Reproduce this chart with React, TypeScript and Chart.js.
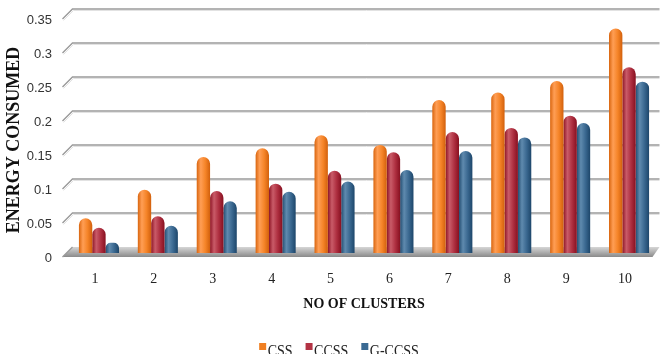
import React, { useEffect, useRef } from "react";
import { Chart, registerables } from "chart.js";

Chart.register(...registerables);

const CATEGORIES = ["1", "2", "3", "4", "5", "6", "7", "8", "9", "10"];
const SERIES_NAMES = ["CSS", "CCSS", "G-CCSS"];
const CSS_VALUES = [0.051, 0.093, 0.141, 0.154, 0.173, 0.159, 0.225, 0.236, 0.253, 0.33];
const CCSS_VALUES = [0.037, 0.054, 0.091, 0.102, 0.121, 0.148, 0.178, 0.184, 0.202, 0.273];
const GCCSS_VALUES = [0.015, 0.04, 0.076, 0.09, 0.105, 0.122, 0.15, 0.17, 0.191, 0.252];
const Y_TICKS = [0, 0.05, 0.1, 0.15, 0.2, 0.25, 0.3, 0.35];
const X_TITLE = "NO OF CLUSTERS";
const Y_TITLE = "ENERGY CONSUMED";

const PALETTE = [
  { solid: "#F07F22", stops: ["#D9650E", "#FF9E55", "#F58428", "#D2600C"] },
  { solid: "#B33344", stops: ["#8E1526", "#C95B68", "#AE2F40", "#871020"] },
  { solid: "#3A6A93", stops: ["#234E72", "#5F8AAE", "#3A6890", "#1D466A"] },
];

const CAT_PCT = 0.68;
const CANVAS_H = 354;
const SERIF = "'Liberation Serif', serif";

function barFill(di: number) {
  return (c: any) => {
    const chart = c.chart;
    const xs = chart.scales && chart.scales.x;
    const ca = chart.chartArea;
    if (!ca || !xs || c.dataIndex === undefined || !xs.width) return PALETTE[di].solid;
    const cat = xs.width / CATEGORIES.length;
    const group = cat * CAT_PCT;
    const bw = group / 3;
    const cx = xs.getPixelForValue(c.dataIndex);
    const x0 = cx - group / 2 + bw * di;
    const g = chart.ctx.createLinearGradient(x0, 0, x0 + bw, 0);
    const s = PALETTE[di].stops;
    g.addColorStop(0, s[0]);
    g.addColorStop(0.3, s[1]);
    g.addColorStop(0.65, s[2]);
    g.addColorStop(1, s[3]);
    return g;
  };
}

const depthPlugin = {
  id: "depth",
  beforeDatasetsDraw(chart: any) {
    const { ctx, chartArea, scales } = chart;
    const y = scales.y;
    const L = chartArea.left;
    const R = chartArea.right;
    ctx.save();
    const y0 = y.getPixelForValue(0);
    const backY = y0 - 6;
    const frontY = y0 + 4;
    const grad = ctx.createLinearGradient(0, backY, 0, frontY);
    grad.addColorStop(0, "#d6d6d6");
    grad.addColorStop(0.5, "#b0b0b0");
    grad.addColorStop(1, "#8a8a8a");
    ctx.fillStyle = grad;
    ctx.beginPath();
    ctx.moveTo(L + 3, backY);
    ctx.lineTo(R + 1, backY);
    ctx.lineTo(R - 6, frontY);
    ctx.lineTo(L - 7, frontY);
    ctx.closePath();
    ctx.fill();
    for (const v of Y_TICKS) {
      const yb = y.getPixelForValue(v) - 6;
      if (v !== 0) {
        ctx.strokeStyle = "#e2e2e2";
        ctx.lineWidth = 1;
        ctx.beginPath();
        ctx.moveTo(L - 6, yb + 11.5);
        ctx.lineTo(L + 4, yb + 1.5);
        ctx.lineTo(R + 1, yb + 1.5);
        ctx.stroke();
        ctx.strokeStyle = "#9a9a9a";
        ctx.lineWidth = 1.4;
        ctx.beginPath();
        ctx.moveTo(L - 7, yb + 10);
        ctx.lineTo(L + 3, yb);
        ctx.lineTo(R + 1, yb);
        ctx.stroke();
      } else {
        ctx.strokeStyle = "#9a9a9a";
        ctx.lineWidth = 1.2;
        ctx.beginPath();
        ctx.moveTo(L - 7, yb + 10);
        ctx.lineTo(L + 3, yb);
        ctx.stroke();
      }
    }
    ctx.restore();
  },
  afterDraw(chart: any) {
    const { ctx } = chart;
    ctx.save();
    ctx.translate(14, 140);
    ctx.rotate(-Math.PI / 2);
    ctx.font = `bold 18px ${SERIF}`;
    ctx.fillStyle = "#111";
    ctx.textAlign = "center";
    ctx.textBaseline = "middle";
    ctx.fillText(Y_TITLE, 0, 0);
    ctx.restore();
    // legend
    ctx.save();
    ctx.font = `14px ${SERIF}`;
    const box = 7;
    const gapIn = 1.5;
    const gapOut = 13;
    const widths = SERIES_NAMES.map((n) => ctx.measureText(n).width);
    const total = widths.reduce((a, w) => a + box + gapIn + w, 0) + gapOut * (SERIES_NAMES.length - 1);
    let x = 339 - total / 2;
    ctx.textBaseline = "alphabetic";
    ctx.textAlign = "left";
    SERIES_NAMES.forEach((n, i) => {
      ctx.fillStyle = PALETTE[i].solid;
      ctx.fillRect(x, 343, box, box);
      ctx.fillStyle = "#222";
      ctx.save();
      ctx.translate(x + box + gapIn, 356);
      ctx.scale(1, 1.25);
      ctx.fillText(n, 0, 0);
      ctx.restore();
      x += box + gapIn + widths[i] + gapOut;
    });
    ctx.restore();
  },
};

export default function App() {
  const ref = useRef<HTMLCanvasElement | null>(null);
  useEffect(() => {
    if (!ref.current) return;
    const valuesList = [CSS_VALUES, CCSS_VALUES, GCCSS_VALUES];
    const chart = new Chart(ref.current, {
      type: "bar",
      data: {
        labels: CATEGORIES,
        datasets: SERIES_NAMES.map((name, i) => ({
          label: name,
          data: valuesList[i],
          backgroundColor: barFill(i),
          borderWidth: 0,
          borderRadius: { topLeft: 7, topRight: 7, bottomLeft: 0, bottomRight: 0 },
          borderSkipped: "bottom",
          categoryPercentage: CAT_PCT,
          barPercentage: 1,
        })),
      },
      options: {
        animation: false,
        responsive: false,
        devicePixelRatio: 1,
        layout: { padding: { left: 0, right: 3.5, top: 15, bottom: 0 } },
        plugins: {
          tooltip: { enabled: false },
          legend: { display: false },
        },
        scales: {
          x: {
            grid: { display: false, drawTicks: false },
            border: { display: false },
            ticks: {
              padding: 18,
              labelOffset: -4,
              color: "#222",
              font: { family: SERIF, size: 14 },
            },
            title: {
              display: true,
              text: X_TITLE,
              color: "#111",
              font: { family: SERIF, size: 14, weight: "bold" },
              padding: { top: 0, bottom: 41.5 },
            },
            afterFit: (s: any) => {
              s.height = 101;
              s.paddingLeft = 0;
              s.paddingRight = 0;
            },
          },
          y: {
            min: 0,
            max: 0.35,
            grid: { display: false, drawTicks: false },
            border: { display: false },
            ticks: {
              stepSize: 0.05,
              padding: 17.5,
              labelOffset: 5.5,
              color: "#333",
              font: { family: "'Liberation Sans', sans-serif", size: 13 },
              callback: (v: any) => String(Math.round(Number(v) * 100) / 100),
            },
            afterFit: (s: any) => {
              s.width = 69.5;
              s.paddingTop = 0;
              s.paddingBottom = 0;
            },
          },
        },
      },
      plugins: [depthPlugin],
    } as any);
    return () => chart.destroy();
  }, []);
  return (
    <div style={{ position: "fixed", left: 0, top: 0, width: 662, height: CANVAS_H, background: "#fff" }}>
      <canvas ref={ref} width={662} height={CANVAS_H} style={{ display: "block" }} />
    </div>
  );
}
